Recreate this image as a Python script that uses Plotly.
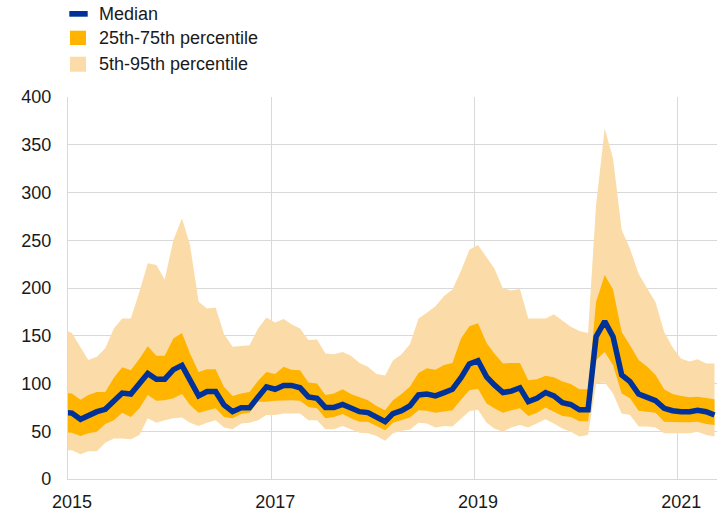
import pandas as pd
import plotly.graph_objects as go

# Monthly observations (mid-month), Dec 2014 .. May 2021
dates = pd.date_range(start="2014-12-01", periods=78, freq="MS") + pd.Timedelta(days=14)

p5 = [30, 30, 26, 29, 29, 38, 42.5, 42.5, 41.5, 46, 63.5, 59, 61.5, 63.5, 64.5, 59, 55.5, 59, 61.5, 54,
      52, 58, 59, 61.5, 67, 67, 68.5, 68.5, 68.5, 61.5, 61.5, 52, 52, 55.5, 52, 48.5, 48, 45, 40, 48,
      50.5, 51.5, 59, 58, 54, 55.5, 55, 63.5, 71, 72.5, 59, 53, 49.5, 54, 56.5, 54, 58, 62.5, 58, 53,
      49.5, 44.5, 46, 100, 101, 89.5, 68.5, 67, 55, 55, 54, 48, 48, 48, 48, 49.5, 46, 44.5]
p25 = [49, 48.5, 45, 48, 49.5, 57.5, 61.5, 69.5, 65, 74, 88, 82, 82.5, 84.5, 89, 77.5, 69.5, 72, 74, 65,
       63.5, 68, 69.5, 81, 81, 82, 82.5, 82.5, 82, 75.5, 74, 63.5, 65, 68, 63.5, 60, 60, 55.5, 51, 59,
       61.5, 64.5, 72, 71.5, 69.5, 70.5, 72, 83, 93, 94.5, 79, 74, 69.5, 72, 74, 66, 69.5, 75, 70.5, 66,
       65, 60.5, 60.5, 124.5, 133, 119, 89.5, 84.5, 71.5, 70.5, 69.5, 60, 59.5, 59.5, 59.5, 60, 57.5, 56.5]
median = [70, 69, 62.5, 67, 70.5, 73, 81, 90, 89, 100, 110.5, 104.5, 104.5, 114.5, 119, 103.5, 87, 91.5, 91.5, 77.5,
          70.5, 74.5, 74.5, 86, 96.5, 94, 98, 98, 95.5, 86, 84.5, 75, 75, 78, 74, 70.5, 69.5, 65, 60, 68.5,
          71.5, 76.5, 88, 89, 87, 90.5, 94, 106, 120.5, 124, 107, 98.5, 90.5, 92, 95.5, 81, 84.5, 90.5, 87, 80,
          78, 72.5, 72.5, 149, 165, 149, 109, 102, 89, 85.5, 82, 74, 71.5, 70.5, 70.5, 72, 70.5, 67]
p75 = [90, 89.5, 83, 88, 91, 91, 106, 117, 114, 126, 139, 129, 129, 147, 153, 131.5, 112, 115, 115, 96.5,
       87, 89.5, 91, 103, 112, 110, 117.5, 114.5, 114, 101, 100, 88, 89.5, 94, 89, 85.5, 82.5, 76.5, 72, 82.5,
       89, 96.5, 111, 116, 114.5, 119.5, 121.5, 147, 160, 163, 142.5, 131.5, 121, 121.5, 121.5, 103.5, 104.5, 108, 106.5, 102,
       99.5, 94, 94, 185.5, 213.5, 198.5, 154, 140, 124.5, 117.5, 109, 94, 89, 87, 85.5, 86, 84.5, 83.5]
p95 = [156, 153, 138, 124.5, 128, 137, 157.5, 168, 168, 196, 226, 224, 209, 250, 273, 245, 185.5, 178.5, 179.5, 152,
       138.5, 139, 140, 157.5, 169, 164, 167.5, 162, 157.5, 145.5, 146, 131.5, 130.5, 133, 129, 121.5, 117.5, 110, 108.5, 124,
       130.5, 141, 168, 174, 181, 191.5, 198.5, 218, 240, 245, 232.5, 220.5, 199.5, 197.5, 199, 168, 168, 168, 172.5, 165.5,
       159.5, 155, 153, 287, 367, 335.5, 261, 241, 215, 199.5, 185, 154, 138, 126, 123, 125.5, 121, 121]

tick_dates = ["2015-01-01", "2017-01-01", "2019-01-01", "2021-01-01"]
tick_labels = ["2015", "2017", "2019", "2021"]
legend_labels = ["Median", "25th-75th percentile", "5th-95th percentile"]

BLUE = "#003299"
ORANGE = "#FFB400"
LIGHT = "#FBDCA8"
GRID = "#D9D9D9"
FONT = "Liberation Sans, Arial, sans-serif"
TXT = "#1a1a1a"

W, H = 717, 511
ML, MR, MT, MB = 68, 0, 97, 32
PW, PH = W - ML - MR, H - MT - MB


def px(x):
    return (x - ML) / PW


def py(y):
    return (H - MB - y) / PH


fig = go.Figure()
fig.add_trace(go.Scatter(x=dates, y=p5, mode="lines", line=dict(width=0, color=LIGHT),
                         showlegend=False, hoverinfo="skip"))
fig.add_trace(go.Scatter(x=dates, y=p95, mode="lines", line=dict(width=0, color=LIGHT),
                         fill="tonexty", fillcolor=LIGHT, showlegend=False, hoverinfo="skip"))
fig.add_trace(go.Scatter(x=dates, y=p25, mode="lines", line=dict(width=0, color=ORANGE),
                         showlegend=False, hoverinfo="skip"))
fig.add_trace(go.Scatter(x=dates, y=p75, mode="lines", line=dict(width=0, color=ORANGE),
                         fill="tonexty", fillcolor=ORANGE, showlegend=False, hoverinfo="skip"))
fig.add_trace(go.Scatter(x=dates, y=median, mode="lines", line=dict(width=5.5, color=BLUE),
                         showlegend=False, hoverinfo="skip"))

# custom legend
shapes = [
    dict(type="rect", xref="paper", yref="paper", x0=px(69.3), x1=px(87.7), y0=py(16.7), y1=py(11),
         fillcolor=BLUE, line=dict(width=0)),
    dict(type="rect", xref="paper", yref="paper", x0=px(70), x1=px(86), y0=py(45), y1=py(30.7),
         fillcolor=ORANGE, line=dict(width=0)),
    dict(type="rect", xref="paper", yref="paper", x0=px(70), x1=px(86), y0=py(71.7), y1=py(56.7),
         fillcolor=LIGHT, line=dict(width=0)),
]
annotations = []
for label, yc in zip(legend_labels, [14, 38.3, 64]):
    annotations.append(dict(text=label, xref="paper", yref="paper", x=px(96.5), y=py(yc),
                            xanchor="left", yanchor="middle", showarrow=False,
                            font=dict(family=FONT, size=18, color=TXT)))

fig.update_layout(
    width=W, height=H,
    margin=dict(l=ML, r=MR, t=MT, b=MB, pad=0, autoexpand=False),
    paper_bgcolor="white", plot_bgcolor="white",
    shapes=shapes, annotations=annotations,
    showlegend=False,
    font=dict(family=FONT, size=18, color=TXT),
    xaxis=dict(type="date", range=["2015-01-01", "2021-05-24"],
               tickvals=tick_dates, ticktext=tick_labels,
               showgrid=True, gridcolor=GRID, gridwidth=1.3,
               showline=True, linecolor=GRID, linewidth=1.3,
               zeroline=False, ticks="", ticklabelstandoff=6, ticklabelshift=4,
               automargin=False,
               tickfont=dict(family=FONT, size=18, color=TXT)),
    yaxis=dict(range=[0, 400], tickvals=[0, 50, 100, 150, 200, 250, 300, 350, 400],
               showgrid=True, gridcolor=GRID, gridwidth=1.3,
               showline=True, linecolor=GRID, linewidth=1.3,
               zeroline=False, ticks="", ticklabelstandoff=12,
               automargin=False,
               tickfont=dict(family=FONT, size=18, color=TXT)),
)

fig.write_html("out.html", config={"displayModeBar": False},
               post_script="document.body.style.margin='0';document.body.style.overflow='hidden';")
